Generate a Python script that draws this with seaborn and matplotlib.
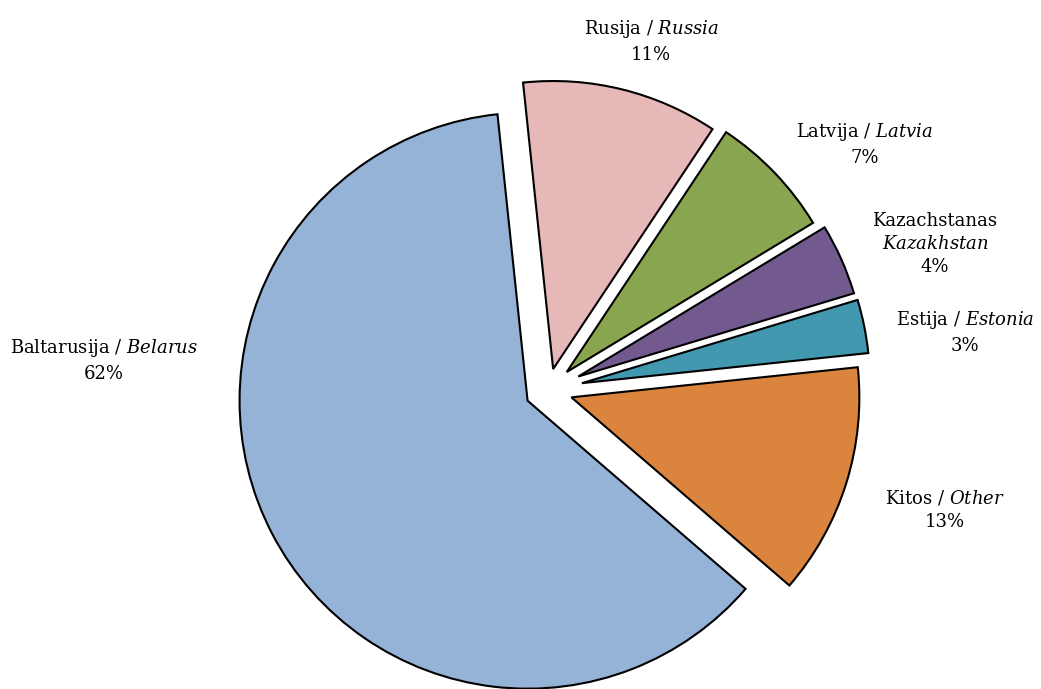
import matplotlib
matplotlib.use("Agg")
import matplotlib.pyplot as plt
import seaborn as sns

# data
labels_lt = ["Baltarusija", "Kitos", "Estija", "Kazachstanas", "Latvija", "Rusija"]
labels_en = ["Belarus", "Other", "Estonia", "Kazakhstan", "Latvia", "Russia"]
shares = [62, 13, 3, 4, 7, 11]
colors = ["#95B3D7", "#DB843D", "#4198AF", "#72598E", "#8AA54F", "#E6B8B7"]
explode = [0.08, 0.085, 0.12, 0.115, 0.09, 0.075]

sns.set_theme(style="white")
plt.rcParams["font.family"] = ["DejaVu Serif"]
plt.rcParams["mathtext.fontset"] = "custom"
plt.rcParams["mathtext.rm"] = "DejaVu Serif"
plt.rcParams["mathtext.it"] = "DejaVu Serif:italic"

fig = plt.figure(figsize=(10.41, 6.89), dpi=100)
ax = fig.add_axes([0, 0, 1, 1])

ax.pie(shares, colors=colors, startangle=96, counterclock=True,
       explode=explode, radius=1.0,
       wedgeprops=dict(edgecolor="black", linewidth=1.5))

R = 288.0  # pixel radius, used only for the view scaling
cx, cy = 548.0, 390.0
ax.set_xlim(-cx / R, (1041 - cx) / R)
ax.set_ylim(-(689 - cy) / R, cy / R)
ax.set_aspect("equal")
ax.axis("off")

# label positions (pixel centres of the text blocks)
label_px = {
    "Belarus": (104, 360),
    "Other": (945, 510),
    "Estonia": (965, 332),
    "Kazakhstan": (935, 244),
    "Latvia": (865, 144),
    "Russia": (651, 41),
}

for lt, en, s in zip(labels_lt, labels_en, shares):
    px, py = label_px[en]
    if en == "Kazakhstan":
        txt = lt + "\n" + r"$\mathit{" + en + "}$" + "\n" + f"{s}%"
    else:
        txt = lt + r" / $\mathit{" + en + "}$" + "\n" + f"{s}%"
    ax.text((px - cx) / R, (cy - py) / R, txt, ha="center", va="center",
            fontsize=13, color="black", linespacing=1.38)

fig.savefig("out.png", dpi=100)
